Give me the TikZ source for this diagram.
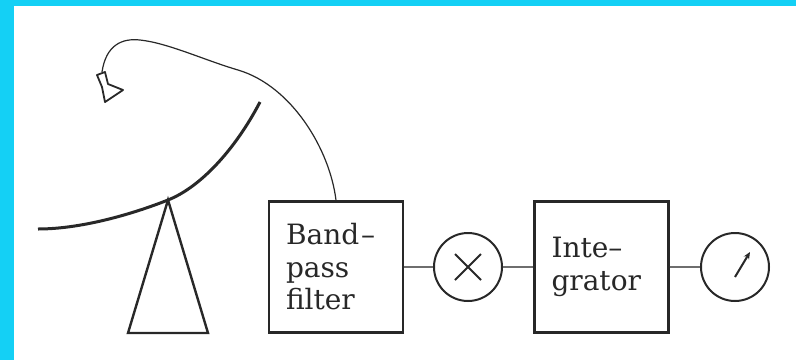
\documentclass[tikz,border=0pt]{standalone}
\usepackage{fontspec}
\setmainfont{DejaVu Serif}
\usetikzlibrary{arrows.meta}

\definecolor{framecyan}{RGB}{20,208,245}
\definecolor{inkgray}{RGB}{40,40,40}
\definecolor{wiregray}{RGB}{110,110,110}

\tikzset{
  blockbox/.style={
    draw=inkgray,
    line width=2.4pt,
    minimum width=134pt,
    minimum height=131pt,
    text width=100pt,
    inner xsep=17pt,
    align=left,
    text=inkgray,
    font=\fontsize{28}{32.5}\selectfont
  },
  ringnode/.style={
    draw=inkgray,
    circle,
    line width=2pt,
    minimum size=68pt,
    inner sep=0pt
  },
  wire/.style={draw=wiregray, line width=2pt}
}

\begin{document}
\begin{tikzpicture}[x=1pt,y=-1pt]

% page and cyan edge
\fill[white] (0,0) rectangle (796,360);
\fill[framecyan] (0,0) rectangle (796,6);
\fill[framecyan] (0,0) rectangle (14,360);
\useasboundingbox (0,0) rectangle (796,360);

% dish, mount and feed horn
\coordinate (pivot) at (168,200);
\coordinate (feed) at (102,72);
\draw[inkgray, line width=3pt]
  (38,229) .. controls (80,229) and (130,215) .. (pivot)
  .. controls (200,187.4) and (235,150) .. (260,102);
\draw[inkgray, line width=2.4pt] (pivot) -- (208,333) -- (128,333) -- cycle;
\draw[inkgray, line width=1.8pt, line join=round]
  (97,75) -- (105,72) -- (108,84) -- (123,90) -- (105,102) -- (102,87) -- cycle;

% receiver chain
\node[blockbox] (bpf) at (336,267) {Band\kern2pt–\\pass\\filter};
\node[ringnode] (mix) at (468,267) {};
\node[blockbox] (integ) at (601.5,267) {Inte–\\grator};
\node[ringnode] (meter) at (735,267) {};

\draw[wire] (bpf) -- (mix);
\draw[wire] (mix) -- (integ);
\draw[wire] (integ) -- (meter);

% multiplier cross and meter needle
\draw[inkgray, line width=2pt]
  ([shift={(-13,-13)}]mix.center) -- ([shift={(13,13)}]mix.center)
  ([shift={(-13,13)}]mix.center) -- ([shift={(13,-13)}]mix.center);
\draw[inkgray, line width=2pt, -{Stealth[length=7pt,width=6pt]}]
  ([shift={(0,10)}]meter.center) -- ([shift={(15,-15)}]meter.center);

% cable from the feed down to the filter
\draw[inkgray, line width=1.2pt]
  (feed) .. controls (106,45) and (122,38) .. (140,40)
  .. controls (168,43) and (204,60) .. (238,70)
  .. controls (292,86) and (330,150) .. (bpf.north);

\end{tikzpicture}
\end{document}
